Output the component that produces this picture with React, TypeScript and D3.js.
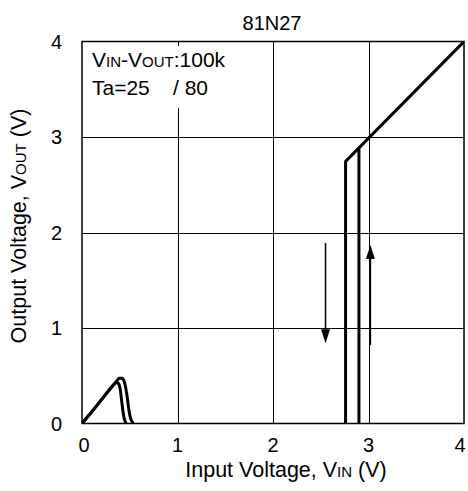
import React from "react";
import * as d3 from "d3";

const title = "81N27";
const xTicks = [0, 1, 2, 3, 4];
const yTicks = [0, 1, 2, 3, 4];

// 25°C and 80°C low-voltage bumps (Vin, Vout)
const bumpA: [number, number][] = [
  [0, 0], [0.1, 0.12], [0.2, 0.245], [0.3, 0.37], [0.34, 0.415], [0.365, 0.43],
  [0.385, 0.415], [0.4, 0.36], [0.415, 0.24], [0.43, 0.12], [0.445, 0.04], [0.465, 0],
];
const bumpB: [number, number][] = [
  [0, 0], [0.1, 0.12], [0.2, 0.245], [0.3, 0.37], [0.36, 0.44], [0.39, 0.475],
  [0.42, 0.475], [0.445, 0.43], [0.47, 0.3], [0.49, 0.15], [0.51, 0.05], [0.54, 0],
];
// Hysteresis branches
const fallBranch: [number, number][] = [[4, 4], [2.76, 2.745], [2.76, 0]];
const riseBranch: [number, number][] = [[2.9, 0], [2.9, 2.88]];
// Direction arrows: [vin, vFrom, vTo]
const arrows: [number, number, number][] = [
  [2.55, 1.89, 0.84],
  [3.02, 0.82, 1.87],
];

export default function App() {
  const W = 468, H = 491;
  const left = 82, right = 464, top = 41.5, bottom = 423.5;
  const x = d3.scaleLinear().domain([0, 4]).range([left, right]);
  const y = d3.scaleLinear().domain([0, 4]).range([bottom, top]);
  const lin = d3.line<[number, number]>().x((d) => x(d[0])).y((d) => y(d[1]));
  const smooth = d3
    .line<[number, number]>()
    .x((d) => x(d[0]))
    .y((d) => y(d[1]))
    .curve(d3.curveMonotoneX);
  const font = "Liberation Sans, Arial, sans-serif";
  const fs = 20;
  const fl = 21.5;
  const sc = 15;
  const xLabelShift = (t: number) => (t === 0 ? 2 : t === 4 ? -4 : 0);

  return (
    <svg
      width={W}
      height={H}
      style={{ position: "absolute", left: 0, top: 0, background: "#fff" }}
      fontFamily={font}
    >
      <defs>
        <clipPath id="plot">
          <rect x={left} y={top} width={right - left} height={bottom - top} />
        </clipPath>
      </defs>
      <rect x={0} y={0} width={W} height={H} fill="#fff" />
      {/* grid */}
      {xTicks.slice(1, -1).map((t) => (
        <line key={"gx" + t} x1={Math.round(x(t)) + 0.5} x2={Math.round(x(t)) + 0.5} y1={top} y2={bottom} stroke="#000" strokeWidth={1} />
      ))}
      {yTicks.slice(1, -1).map((t) => (
        <line key={"gy" + t} x1={left} x2={right} y1={Math.round(y(t)) + 0.5} y2={Math.round(y(t)) + 0.5} stroke="#000" strokeWidth={1} />
      ))}
      {/* legend background */}
      <rect x={left + 1} y={46} width={150} height={62} fill="#fff" />
      <rect x={left} y={top} width={right - left} height={bottom - top} fill="none" stroke="#000" strokeWidth={1.5} />
      {/* legend text */}
      <text x={92} y={67} fontSize={21}>
        V<tspan fontSize={sc}>IN</tspan>-V<tspan fontSize={sc}>OUT</tspan>:100k
      </text>
      <text x={92} y={95} fontSize={21}>
        Ta=25
      </text>
      <text x={173} y={95} fontSize={21}>
        / 80
      </text>
      {/* curves */}
      <g clipPath="url(#plot)" fill="none" stroke="#000" strokeWidth={3} strokeLinejoin="miter">
        <path d={smooth(bumpA) || ""} />
        <path d={smooth(bumpB) || ""} />
        <path d={lin(fallBranch) || ""} />
        <path d={lin(riseBranch) || ""} />
      </g>
      {/* arrows */}
      {arrows.map(([vx, a, b], i) => {
        const dir = b < a ? 1 : -1; // 1 means pointing down in screen
        const tipY = y(b);
        const baseY = tipY - dir * 14;
        return (
          <g key={"ar" + i}>
            <line x1={x(vx)} x2={x(vx)} y1={y(a)} y2={baseY} stroke="#000" strokeWidth={1.5} />
            <path
              d={`M${x(vx)},${tipY} L${x(vx) - 4.5},${baseY} L${x(vx) + 4.5},${baseY} Z`}
              fill="#000"
            />
          </g>
        );
      })}
      {/* ticks labels */}
      {xTicks.map((t) => (
        <text key={"tx" + t} x={x(t) + xLabelShift(t)} y={452} fontSize={fs} textAnchor="middle">
          {t}
        </text>
      ))}
      {yTicks.map((t) => (
        <text key={"ty" + t} x={62} y={y(t) + 7} fontSize={fs} textAnchor="end">
          {t}
        </text>
      ))}
      {/* title */}
      <text x={272} y={30} fontSize={fs} textAnchor="middle">
        {title}
      </text>
      {/* axis labels */}
      <text x={286} y={476.5} fontSize={fl} textAnchor="middle">
        Input Voltage, V<tspan fontSize={sc}>IN</tspan> (V)
      </text>
      <text
        transform={`translate(26, 226) rotate(-90)`}
        fontSize={fl}
        textAnchor="middle"
      >
        Output Voltage, V<tspan fontSize={sc}>OUT</tspan> (V)
      </text>
    </svg>
  );
}
